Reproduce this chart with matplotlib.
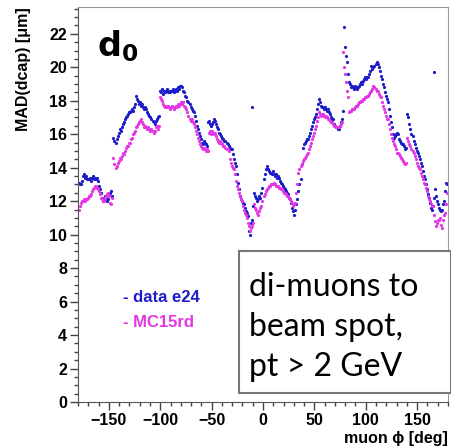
import numpy as np
import matplotlib
matplotlib.use("Agg")
import matplotlib.pyplot as plt
from matplotlib.patches import Rectangle
from matplotlib.ticker import MultipleLocator


# one bin per degree of muon phi, bin centres -179.5 ... 179.5
phi = np.arange(-179.5, 180.0, 1.0)

# MAD(dcap) for data e24, per degree bin
data_e24 = [
    13.1, 13.0, 13.0, 13.2, 13.5, 13.6, 13.4, 13.5, 13.3, 13.3,
    13.3, 13.4, 13.2, 13.4, 13.5, 13.3, 13.4, 13.3, 13.4, 13.2,
    12.9, 12.7, 12.5, 12.2, 12.0, 12.1, 12.3, 12.2, 12.0, 12.1,
    12.4, 12.5, 12.6, 12.3, 15.8, 15.6, 15.5, 15.7, 15.9, 16.1,
    16.3, 16.2, 16.4, 16.6, 16.7, 16.9, 17.0, 17.1, 17.2, 17.3,
    17.3, 17.4, 17.5, 17.4, 17.6, 17.8, 18.3, 18.1, 18.0, 17.8,
    17.9, 17.7, 17.8, 17.6, 17.5, 17.6, 17.5, 17.3, 17.2, 17.1,
    17.0, 16.9, 16.8, 16.7, 16.6, 16.8, 16.9, 17.0, 17.1, 18.6,
    18.5, 18.7, 18.4, 18.6, 18.5, 18.6, 18.7, 18.5, 18.6, 18.5,
    18.6, 18.6, 18.7, 18.5, 18.6, 18.7, 18.6, 18.8, 18.7, 18.9,
    18.9, 18.8, 18.6, 18.5, 18.3, 18.2, 18.0, 17.9, 17.8, 17.6,
    17.5, 17.4, 17.3, 17.1, 16.8, 16.5, 16.3, 16.1, 15.9, 15.7,
    15.5, 15.4, 15.6, 15.5, 15.4, 15.3, 16.7, 16.8, 16.6, 16.5,
    16.6, 16.7, 16.9, 16.8, 16.6, 16.4, 16.3, 16.1, 16.0, 15.9,
    15.8, 15.7, 15.6, 15.6, 15.5, 15.4, 15.3, 15.2, 15.1, 15.1,
    14.8, 14.5, 14.3, 14.1, 13.6, 13.1, 12.7, 12.3, 12.1, 12.0,
    11.9, 11.8, 11.6, 11.4, 11.3, 11.1, 10.2, 10.0, 10.7, 10.9,
    11.7, 12.5, 12.3, 12.2, 12.0, 12.1, 12.3, 12.2, 12.5, 12.8,
    13.3, 13.6, 13.9, 14.1, 13.9, 13.8, 13.7, 13.7, 13.6, 13.8,
    13.6, 13.5, 13.6, 13.4, 13.5, 13.4, 13.2, 13.1, 13.0, 12.9,
    12.8, 12.7, 12.6, 12.5, 12.4, 12.2, 12.1, 11.9, 11.6, 11.4,
    11.2, 11.5, 11.8, 12.1, 12.6, 13.0, 13.3, 14.2, 15.2, 15.4,
    15.5, 15.6, 15.7, 15.7, 15.9, 16.1, 16.3, 16.5, 16.7, 16.9,
    17.0, 17.2, 17.5, 17.8, 18.1, 17.9, 17.7, 17.6, 17.6, 17.5,
    17.6, 17.5, 17.4, 17.5, 17.3, 17.2, 17.0, 16.9, 16.9, 16.6,
    16.5, 16.4, 16.3, 16.3, 16.5, 16.7, 16.9, 17.4, 22.4, 21.2,
    20.7, 20.3, 19.6, 19.1, 19.0, 18.8, 18.9, 18.8, 18.7, 18.9,
    18.8, 18.7, 18.8, 18.9, 19.0, 19.1, 19.0, 19.2, 19.3, 19.4,
    19.3, 19.4, 19.4, 19.6, 19.8, 20.1, 19.9, 20.0, 20.1, 20.2,
    20.3, 20.2, 20.0, 19.8, 19.5, 19.3, 19.0, 18.8, 18.5, 18.3,
    18.1, 17.9, 17.5, 17.1, 16.7, 16.4, 16.0, 15.8, 15.9, 16.0,
    16.1, 16.0, 15.7, 15.6, 15.5, 15.4, 15.4, 15.3, 15.1, 15.2,
    17.2, 17.0, 16.6, 16.3, 16.0, 15.9, 15.6, 15.4, 15.2, 15.0,
    14.9, 14.7, 14.5, 14.3, 14.1, 13.8, 13.5, 13.3, 13.0, 12.7,
    12.4, 12.2, 11.9, 11.6, 11.5, 11.7, 12.2, 12.7, 12.3, 12.0,
    11.8, 11.6, 11.5, 11.4, 11.5, 11.8, 12.0, 12.6, 13.1, 13.0,
]

# MAD(dcap) for MC15rd, per degree bin
mc15rd = [
    11.5, 11.7, 11.9, 12.0, 12.0, 12.1, 12.0, 12.1, 12.1, 12.2,
    12.3, 12.3, 12.4, 12.6, 12.7, 12.8, 12.9, 12.9, 12.8, 12.7,
    12.6, 12.4, 12.2, 12.1, 12.0, 12.0, 12.2, 12.3, 12.4, 12.5,
    12.3, 11.9, 11.8, 12.2, 14.6, 14.2, 14.0, 14.1, 14.3, 14.4,
    14.6, 14.5, 14.7, 14.9, 14.8, 15.0, 15.2, 15.3, 15.3, 15.5,
    15.5, 15.7, 15.8, 16.0, 16.1, 16.2, 16.4, 16.5, 16.6, 16.7,
    16.8, 16.9, 16.7, 16.6, 16.4, 16.5, 16.4, 16.3, 16.4, 16.3,
    16.2, 16.3, 16.2, 16.1, 16.2, 16.4, 16.5, 16.3, 16.5, 18.2,
    18.1, 18.0, 17.8, 17.7, 17.6, 17.7, 17.6, 17.7, 17.6, 17.5,
    17.6, 17.7, 17.6, 17.5, 17.6, 17.7, 17.6, 17.8, 17.7, 17.8,
    17.9, 17.8, 17.9, 17.7, 17.6, 17.5, 17.3, 17.1, 16.9, 16.8,
    16.9, 16.7, 16.6, 16.4, 16.2, 16.0, 15.8, 15.6, 15.4, 15.3,
    15.2, 15.1, 15.2, 15.1, 15.0, 15.1, 15.0, 16.1, 16.2, 16.0,
    16.2, 16.1, 16.0, 16.1, 15.9, 15.7, 15.6, 15.5, 15.6, 15.5,
    15.4, 15.3, 15.3, 15.2, 15.1, 15.1, 15.0, 14.5, 14.3, 14.1,
    14.0, 13.9, 13.6, 13.2, 12.9, 12.7, 12.5, 12.3, 12.1, 12.0,
    11.7, 11.5, 11.3, 11.2, 11.0, 10.7, 10.5, 10.2, 10.4, 10.5,
    10.7, 11.8, 11.6, 11.5, 11.3, 11.2, 11.4, 11.6, 11.7, 12.0,
    12.3, 12.4, 12.6, 12.7, 12.8, 12.9, 12.9, 13.0, 13.0, 13.0,
    13.1, 13.0, 12.9, 12.9, 12.9, 12.8, 12.8, 12.7, 12.7, 12.6,
    12.5, 12.5, 12.4, 12.3, 12.3, 12.2, 12.1, 12.0, 11.9, 11.7,
    11.8, 11.9, 12.5, 13.0, 13.7, 13.9, 14.1, 14.2, 14.4, 14.5,
    14.6, 14.7, 14.8, 14.9, 15.1, 15.3, 15.5, 15.7, 15.9, 16.1,
    16.3, 16.5, 16.8, 17.0, 17.3, 17.2, 17.1, 17.2, 17.2, 17.1,
    17.0, 17.1, 17.0, 16.9, 16.9, 16.8, 16.7, 16.7, 16.6, 16.5,
    16.5, 16.4, 16.4, 16.4, 16.5, 16.6, 16.7, 20.9, 20.0, 19.6,
    19.1, 18.6, 18.2, 17.3, 17.4, 17.4, 17.5, 17.5, 17.5, 17.6,
    17.7, 17.7, 17.8, 17.9, 17.9, 18.0, 18.0, 18.1, 18.1, 18.2,
    18.2, 18.3, 18.3, 18.4, 18.5, 18.6, 18.7, 18.9, 18.8, 18.7,
    18.6, 18.6, 18.4, 18.3, 18.2, 17.9, 17.7, 17.5, 17.3, 17.1,
    16.9, 16.9, 16.6, 16.3, 16.0, 15.8, 15.6, 15.4, 15.3, 15.1,
    14.9, 14.9, 14.8, 14.7, 14.6, 14.5, 14.4, 14.3, 14.2, 14.3,
    15.8, 15.6, 15.4, 15.3, 15.1, 15.0, 14.9, 14.7, 14.5, 14.3,
    14.1, 14.0, 13.9, 13.7, 13.5, 13.3, 13.1, 13.0, 12.8, 12.6,
    12.3, 12.1, 12.0, 11.8, 11.7, 11.7, 11.2, 10.8, 10.5, 10.7,
    10.9, 10.9, 11.0, 10.6, 10.4, 10.9, 11.2, 11.3, 11.8, 12.5,
]

# isolated data points far off the trend
outlier_phi = [-10.5, 166.5]
outlier_data = [17.6, 19.7]

blue = "#1c1cc8"
magenta = "#e436e4"
sans = ["Liberation Sans", "DejaVu Sans"]

fig = plt.figure(figsize=(4.52, 4.48), dpi=100)
ax = fig.add_axes([0.1726, 0.1027, 0.8185, 0.8817])

ax.plot(phi, data_e24, linestyle="none", marker="o", markersize=2.3,
        markeredgewidth=0, color=blue)
ax.plot(outlier_phi, outlier_data, linestyle="none", marker="o", markersize=2.3,
        markeredgewidth=0, color=blue)
ax.plot(phi, mc15rd, linestyle="none", marker="o", markersize=2.3,
        markeredgewidth=0, color=magenta)

ax.set_xlim(-180, 180)
ax.set_ylim(0, 23.6)

ax.xaxis.set_major_locator(MultipleLocator(50))
ax.xaxis.set_minor_locator(MultipleLocator(10))
ax.yaxis.set_major_locator(MultipleLocator(2))
ax.yaxis.set_minor_locator(MultipleLocator(0.5))
ax.tick_params(which="major", length=6, width=1, color="#444", pad=2)
ax.tick_params(which="minor", length=3, width=1, color="#444")
ax.tick_params(labelsize=11.5)
for lab in ax.get_xticklabels() + ax.get_yticklabels():
    lab.set_fontweight("bold")
    lab.set_family(sans)

for side in ["left", "bottom"]:
    ax.spines[side].set_color("#555")
for side in ["top", "right"]:
    ax.spines[side].set_color("#999")

fig.text(0.052, 0.845, "MAD(dcap) [μm]", rotation=90, ha="center", va="center",
         fontsize=11.5, fontweight="bold", family=sans)
fig.text(0.99, 0.004, "muon ϕ [deg]", ha="right", va="bottom",
         fontsize=11.5, fontweight="bold", family=sans)

ax.text(0.05, 0.945, "$\\mathbf{d_0}$", transform=ax.transAxes, fontsize=24,
        va="top", ha="left")

ax.text(0.122, 0.265, "- data e24", transform=ax.transAxes, color=blue,
        fontsize=12, fontweight="bold", family=sans, va="center")
ax.text(0.122, 0.2, "- MC15rd", transform=ax.transAxes, color=magenta,
        fontsize=12, fontweight="bold", family=sans, va="center")

# annotation box with the selection
box = Rectangle((0.435, 0.022), 0.572, 0.36, transform=ax.transAxes,
                facecolor="white", edgecolor="#777", linewidth=1.5,
                clip_on=False, zorder=5)
ax.add_patch(box)
ax.text(0.462, 0.19, "di-muons to\nbeam spot,\npt > 2 GeV", transform=ax.transAxes,
        fontsize=23, family="Lato", va="center", ha="left", linespacing=1.42,
        zorder=6)

fig.savefig("out.png", dpi=100)
